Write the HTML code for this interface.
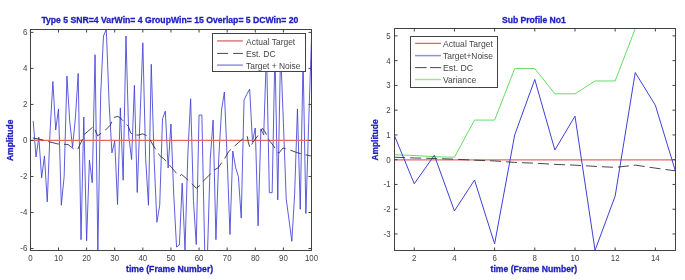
<!DOCTYPE html>
<html><head><meta charset="utf-8"><title>Figure</title>
<style>
html,body{margin:0;padding:0;background:#fff;width:685px;height:280px;overflow:hidden;}
svg{display:block;font-family:"Liberation Sans", sans-serif;filter:blur(0.35px);}
</style></head><body>
<svg width="685" height="280" viewBox="0 0 685 280">
<defs><clipPath id="cl"><rect x="30.50" y="29.50" width="281.00" height="221.00"/></clipPath>
<clipPath id="cr"><rect x="394.50" y="28.50" width="281.00" height="222.00"/></clipPath></defs>
<rect width="685" height="280" fill="#fff"/>
<g clip-path="url(#cl)" fill="none" stroke-linejoin="round">
<polyline points="33.21,121.00 36.02,157.02 38.83,137.21 41.64,177.91 44.45,155.94 47.27,201.86 50.08,130.90 52.89,81.56 55.70,130.00 58.51,108.93 61.32,205.29 64.13,176.65 66.94,76.15 69.75,121.72 72.56,147.29 75.38,117.94 78.19,73.45 81.00,239.69 83.81,117.04 86.62,240.77 89.43,160.08 92.24,182.77 95.05,54.72 97.86,249.95 100.68,94.16 103.49,35.99 106.30,29.15 109.11,103.35 111.92,152.88 114.73,141.17 117.54,204.57 120.35,107.85 123.16,180.25 125.97,35.99 128.78,136.31 131.60,159.54 134.41,85.34 137.22,192.50 140.03,117.94 142.84,42.84 145.65,158.28 148.46,205.29 151.27,64.27 154.08,158.28 156.90,222.22 159.71,205.29 162.52,118.84 165.33,111.09 168.14,168.01 170.95,124.06 173.76,195.02 176.57,247.07 179.38,244.91 182.19,183.13 185.00,249.95 187.82,154.68 190.63,98.85 193.44,200.42 196.25,244.55 199.06,115.06 201.87,115.06 204.68,249.95 207.49,253.73 210.30,158.28 213.12,120.10 215.93,239.69 218.74,158.28 221.55,110.01 224.36,92.00 227.17,158.28 229.98,234.46 232.79,151.08 235.60,167.46 238.41,176.65 241.22,218.07 244.04,100.11 246.85,94.16 249.66,89.12 252.47,141.89 255.28,128.02 258.09,225.82 260.90,128.92 263.71,135.05 266.52,50.40 269.33,192.68 272.15,192.68 274.96,50.40 277.77,199.88 280.58,50.40 283.39,122.44 286.20,198.80 289.01,219.69 291.82,241.31 294.63,194.48 297.44,108.93 300.26,209.25 303.07,59.40 305.88,213.57 308.69,122.44 311.50,37.79" stroke="#4040d8" stroke-width="0.85"/>
<line x1="30.50" y1="140.45" x2="311.50" y2="140.45" stroke="#e46a6a" stroke-width="1.2"/>
<polyline points="32.80,138.00 38.70,139.10 43.00,140.00 49.40,141.80 57.50,143.90 68.00,144.50 75.00,150.00 77.50,149.70 81.60,141.20 84.20,134.50 93.60,126.40 97.60,135.80 105.70,129.90 110.40,125.00 113.60,117.50 117.90,116.40 122.10,119.60 128.40,126.40 130.60,132.90 133.80,135.00 139.10,135.00 142.40,133.90 145.60,135.00 149.90,139.30 153.00,145.00 159.80,155.70 163.80,158.70 171.70,167.60 176.60,173.50 179.50,176.40 181.50,174.40 185.00,177.40 190.40,182.30 196.30,188.20 200.20,185.30 204.00,180.40 209.00,175.40 214.00,170.00 218.00,168.00 225.00,158.00 228.60,151.60 238.40,142.70 244.60,137.30 247.30,136.40 248.20,141.80 250.00,148.00 252.70,142.70 259.80,132.90 262.50,128.40 265.20,132.00 268.80,140.00 273.20,145.40 278.60,153.40 283.00,148.00 289.30,149.80 297.90,152.90 310.70,156.00 312.00,156.00" stroke="#333333" stroke-width="0.9" stroke-dasharray="11,5"/>
</g>
<rect x="212.5" y="33.5" width="93" height="38" fill="#fff" stroke="#424242" stroke-width="1"/>
<line x1="217.10" y1="40.90" x2="242.90" y2="40.90" stroke="#d86a6a" stroke-width="1.3"/>
<line x1="217.10" y1="53.40" x2="242.90" y2="53.40" stroke="#333333" stroke-width="0.9" stroke-dasharray="11,5"/>
<line x1="217.10" y1="65.10" x2="242.90" y2="65.10" stroke="#9090e6" stroke-width="1.5"/>
<rect x="30.50" y="29.50" width="281.00" height="221.00" fill="none" stroke="#424242" stroke-width="1"/>
<line x1="30.40" y1="250.50" x2="30.40" y2="247.50" stroke="#424242" stroke-width="1"/>
<line x1="30.40" y1="29.50" x2="30.40" y2="32.50" stroke="#424242" stroke-width="1"/>
<line x1="58.51" y1="250.50" x2="58.51" y2="247.50" stroke="#424242" stroke-width="1"/>
<line x1="58.51" y1="29.50" x2="58.51" y2="32.50" stroke="#424242" stroke-width="1"/>
<line x1="86.62" y1="250.50" x2="86.62" y2="247.50" stroke="#424242" stroke-width="1"/>
<line x1="86.62" y1="29.50" x2="86.62" y2="32.50" stroke="#424242" stroke-width="1"/>
<line x1="114.73" y1="250.50" x2="114.73" y2="247.50" stroke="#424242" stroke-width="1"/>
<line x1="114.73" y1="29.50" x2="114.73" y2="32.50" stroke="#424242" stroke-width="1"/>
<line x1="142.84" y1="250.50" x2="142.84" y2="247.50" stroke="#424242" stroke-width="1"/>
<line x1="142.84" y1="29.50" x2="142.84" y2="32.50" stroke="#424242" stroke-width="1"/>
<line x1="170.95" y1="250.50" x2="170.95" y2="247.50" stroke="#424242" stroke-width="1"/>
<line x1="170.95" y1="29.50" x2="170.95" y2="32.50" stroke="#424242" stroke-width="1"/>
<line x1="199.06" y1="250.50" x2="199.06" y2="247.50" stroke="#424242" stroke-width="1"/>
<line x1="199.06" y1="29.50" x2="199.06" y2="32.50" stroke="#424242" stroke-width="1"/>
<line x1="227.17" y1="250.50" x2="227.17" y2="247.50" stroke="#424242" stroke-width="1"/>
<line x1="227.17" y1="29.50" x2="227.17" y2="32.50" stroke="#424242" stroke-width="1"/>
<line x1="255.28" y1="250.50" x2="255.28" y2="247.50" stroke="#424242" stroke-width="1"/>
<line x1="255.28" y1="29.50" x2="255.28" y2="32.50" stroke="#424242" stroke-width="1"/>
<line x1="283.39" y1="250.50" x2="283.39" y2="247.50" stroke="#424242" stroke-width="1"/>
<line x1="283.39" y1="29.50" x2="283.39" y2="32.50" stroke="#424242" stroke-width="1"/>
<line x1="311.50" y1="250.50" x2="311.50" y2="247.50" stroke="#424242" stroke-width="1"/>
<line x1="311.50" y1="29.50" x2="311.50" y2="32.50" stroke="#424242" stroke-width="1"/>
<line x1="30.50" y1="248.51" x2="33.50" y2="248.51" stroke="#424242" stroke-width="1"/>
<line x1="311.50" y1="248.51" x2="308.50" y2="248.51" stroke="#424242" stroke-width="1"/>
<line x1="30.50" y1="212.49" x2="33.50" y2="212.49" stroke="#424242" stroke-width="1"/>
<line x1="311.50" y1="212.49" x2="308.50" y2="212.49" stroke="#424242" stroke-width="1"/>
<line x1="30.50" y1="176.47" x2="33.50" y2="176.47" stroke="#424242" stroke-width="1"/>
<line x1="311.50" y1="176.47" x2="308.50" y2="176.47" stroke="#424242" stroke-width="1"/>
<line x1="30.50" y1="140.45" x2="33.50" y2="140.45" stroke="#424242" stroke-width="1"/>
<line x1="311.50" y1="140.45" x2="308.50" y2="140.45" stroke="#424242" stroke-width="1"/>
<line x1="30.50" y1="104.43" x2="33.50" y2="104.43" stroke="#424242" stroke-width="1"/>
<line x1="311.50" y1="104.43" x2="308.50" y2="104.43" stroke="#424242" stroke-width="1"/>
<line x1="30.50" y1="68.41" x2="33.50" y2="68.41" stroke="#424242" stroke-width="1"/>
<line x1="311.50" y1="68.41" x2="308.50" y2="68.41" stroke="#424242" stroke-width="1"/>
<line x1="30.50" y1="32.39" x2="33.50" y2="32.39" stroke="#424242" stroke-width="1"/>
<line x1="311.50" y1="32.39" x2="308.50" y2="32.39" stroke="#424242" stroke-width="1"/>
<g clip-path="url(#cr)" fill="none" stroke-linejoin="round">
<line x1="394.50" y1="159.80" x2="675.50" y2="159.80" stroke="#e46a6a" stroke-width="1.3"/>
<polyline points="394.16,154.75 414.25,155.49 434.34,156.73 454.43,157.22 474.52,120.08 494.61,120.08 514.70,68.58 534.79,68.58 554.88,93.84 574.97,93.84 595.06,80.96 615.15,80.96 635.24,28.72 655.33,-1.24 675.42,-1.24" stroke="#66dc66" stroke-width="1.0"/>
<polyline points="394.16,134.94 414.25,183.72 434.34,155.24 454.43,210.95 474.52,180.00 494.61,243.88 514.70,134.94 534.79,79.48 554.88,150.04 574.97,116.12 595.06,250.32 615.15,196.10 635.24,72.54 655.33,105.23 675.42,171.09" stroke="#4040d8" stroke-width="1.0"/>
<polyline points="394.16,157.22 414.25,157.97 434.34,158.46 454.43,159.20 474.52,160.20 494.61,160.94 514.70,162.42 534.79,163.17 554.88,164.40 574.97,165.15 595.06,166.39 615.15,167.38 635.24,165.15 655.33,168.12 675.42,170.84" stroke="#333333" stroke-width="0.9" stroke-dasharray="11,5"/>
</g>
<rect x="410.5" y="36.5" width="87" height="51" fill="#fff" stroke="#424242" stroke-width="1"/>
<line x1="415.10" y1="43.40" x2="441.00" y2="43.40" stroke="#d86a6a" stroke-width="1.3"/>
<line x1="415.10" y1="55.60" x2="441.00" y2="55.60" stroke="#9090e6" stroke-width="1.5"/>
<line x1="415.10" y1="67.60" x2="441.00" y2="67.60" stroke="#333333" stroke-width="0.9" stroke-dasharray="11.5,3.5"/>
<line x1="415.10" y1="79.50" x2="441.00" y2="79.50" stroke="#9ee09e" stroke-width="1.5"/>
<rect x="394.50" y="28.50" width="281.00" height="222.00" fill="none" stroke="#424242" stroke-width="1"/>
<line x1="414.25" y1="250.50" x2="414.25" y2="247.50" stroke="#424242" stroke-width="1"/>
<line x1="414.25" y1="28.50" x2="414.25" y2="31.50" stroke="#424242" stroke-width="1"/>
<line x1="454.43" y1="250.50" x2="454.43" y2="247.50" stroke="#424242" stroke-width="1"/>
<line x1="454.43" y1="28.50" x2="454.43" y2="31.50" stroke="#424242" stroke-width="1"/>
<line x1="494.61" y1="250.50" x2="494.61" y2="247.50" stroke="#424242" stroke-width="1"/>
<line x1="494.61" y1="28.50" x2="494.61" y2="31.50" stroke="#424242" stroke-width="1"/>
<line x1="534.79" y1="250.50" x2="534.79" y2="247.50" stroke="#424242" stroke-width="1"/>
<line x1="534.79" y1="28.50" x2="534.79" y2="31.50" stroke="#424242" stroke-width="1"/>
<line x1="574.97" y1="250.50" x2="574.97" y2="247.50" stroke="#424242" stroke-width="1"/>
<line x1="574.97" y1="28.50" x2="574.97" y2="31.50" stroke="#424242" stroke-width="1"/>
<line x1="615.15" y1="250.50" x2="615.15" y2="247.50" stroke="#424242" stroke-width="1"/>
<line x1="615.15" y1="28.50" x2="615.15" y2="31.50" stroke="#424242" stroke-width="1"/>
<line x1="655.33" y1="250.50" x2="655.33" y2="247.50" stroke="#424242" stroke-width="1"/>
<line x1="655.33" y1="28.50" x2="655.33" y2="31.50" stroke="#424242" stroke-width="1"/>
<line x1="394.50" y1="233.98" x2="397.50" y2="233.98" stroke="#424242" stroke-width="1"/>
<line x1="675.50" y1="233.98" x2="672.50" y2="233.98" stroke="#424242" stroke-width="1"/>
<line x1="394.50" y1="209.22" x2="397.50" y2="209.22" stroke="#424242" stroke-width="1"/>
<line x1="675.50" y1="209.22" x2="672.50" y2="209.22" stroke="#424242" stroke-width="1"/>
<line x1="394.50" y1="184.46" x2="397.50" y2="184.46" stroke="#424242" stroke-width="1"/>
<line x1="675.50" y1="184.46" x2="672.50" y2="184.46" stroke="#424242" stroke-width="1"/>
<line x1="394.50" y1="159.70" x2="397.50" y2="159.70" stroke="#424242" stroke-width="1"/>
<line x1="675.50" y1="159.70" x2="672.50" y2="159.70" stroke="#424242" stroke-width="1"/>
<line x1="394.50" y1="134.94" x2="397.50" y2="134.94" stroke="#424242" stroke-width="1"/>
<line x1="675.50" y1="134.94" x2="672.50" y2="134.94" stroke="#424242" stroke-width="1"/>
<line x1="394.50" y1="110.18" x2="397.50" y2="110.18" stroke="#424242" stroke-width="1"/>
<line x1="675.50" y1="110.18" x2="672.50" y2="110.18" stroke="#424242" stroke-width="1"/>
<line x1="394.50" y1="85.42" x2="397.50" y2="85.42" stroke="#424242" stroke-width="1"/>
<line x1="675.50" y1="85.42" x2="672.50" y2="85.42" stroke="#424242" stroke-width="1"/>
<line x1="394.50" y1="60.66" x2="397.50" y2="60.66" stroke="#424242" stroke-width="1"/>
<line x1="675.50" y1="60.66" x2="672.50" y2="60.66" stroke="#424242" stroke-width="1"/>
<line x1="394.50" y1="35.90" x2="397.50" y2="35.90" stroke="#424242" stroke-width="1"/>
<line x1="675.50" y1="35.90" x2="672.50" y2="35.90" stroke="#424242" stroke-width="1"/>
<text transform="translate(27.30 251.41) scale(0.860 1)" font-size="9.20" text-anchor="end" font-weight="normal" fill="#454545">-6</text>
<text transform="translate(27.30 215.39) scale(0.860 1)" font-size="9.20" text-anchor="end" font-weight="normal" fill="#454545">-4</text>
<text transform="translate(27.30 179.37) scale(0.860 1)" font-size="9.20" text-anchor="end" font-weight="normal" fill="#454545">-2</text>
<text transform="translate(27.30 143.35) scale(0.860 1)" font-size="9.20" text-anchor="end" font-weight="normal" fill="#454545">0</text>
<text transform="translate(27.30 107.33) scale(0.860 1)" font-size="9.20" text-anchor="end" font-weight="normal" fill="#454545">2</text>
<text transform="translate(27.30 71.31) scale(0.860 1)" font-size="9.20" text-anchor="end" font-weight="normal" fill="#454545">4</text>
<text transform="translate(27.30 35.29) scale(0.860 1)" font-size="9.20" text-anchor="end" font-weight="normal" fill="#454545">6</text>
<text transform="translate(30.40 260.70) scale(0.860 1)" font-size="9.20" text-anchor="middle" font-weight="normal" fill="#454545">0</text>
<text transform="translate(58.51 260.70) scale(0.860 1)" font-size="9.20" text-anchor="middle" font-weight="normal" fill="#454545">10</text>
<text transform="translate(86.62 260.70) scale(0.860 1)" font-size="9.20" text-anchor="middle" font-weight="normal" fill="#454545">20</text>
<text transform="translate(114.73 260.70) scale(0.860 1)" font-size="9.20" text-anchor="middle" font-weight="normal" fill="#454545">30</text>
<text transform="translate(142.84 260.70) scale(0.860 1)" font-size="9.20" text-anchor="middle" font-weight="normal" fill="#454545">40</text>
<text transform="translate(170.95 260.70) scale(0.860 1)" font-size="9.20" text-anchor="middle" font-weight="normal" fill="#454545">50</text>
<text transform="translate(199.06 260.70) scale(0.860 1)" font-size="9.20" text-anchor="middle" font-weight="normal" fill="#454545">60</text>
<text transform="translate(227.17 260.70) scale(0.860 1)" font-size="9.20" text-anchor="middle" font-weight="normal" fill="#454545">70</text>
<text transform="translate(255.28 260.70) scale(0.860 1)" font-size="9.20" text-anchor="middle" font-weight="normal" fill="#454545">80</text>
<text transform="translate(283.39 260.70) scale(0.860 1)" font-size="9.20" text-anchor="middle" font-weight="normal" fill="#454545">90</text>
<text transform="translate(311.50 260.70) scale(0.860 1)" font-size="9.20" text-anchor="middle" font-weight="normal" fill="#454545">100</text>
<text transform="translate(390.60 236.88) scale(0.860 1)" font-size="9.20" text-anchor="end" font-weight="normal" fill="#454545">-3</text>
<text transform="translate(390.60 212.12) scale(0.860 1)" font-size="9.20" text-anchor="end" font-weight="normal" fill="#454545">-2</text>
<text transform="translate(390.60 187.36) scale(0.860 1)" font-size="9.20" text-anchor="end" font-weight="normal" fill="#454545">-1</text>
<text transform="translate(390.60 162.60) scale(0.860 1)" font-size="9.20" text-anchor="end" font-weight="normal" fill="#454545">0</text>
<text transform="translate(390.60 137.84) scale(0.860 1)" font-size="9.20" text-anchor="end" font-weight="normal" fill="#454545">1</text>
<text transform="translate(390.60 113.08) scale(0.860 1)" font-size="9.20" text-anchor="end" font-weight="normal" fill="#454545">2</text>
<text transform="translate(390.60 88.32) scale(0.860 1)" font-size="9.20" text-anchor="end" font-weight="normal" fill="#454545">3</text>
<text transform="translate(390.60 63.56) scale(0.860 1)" font-size="9.20" text-anchor="end" font-weight="normal" fill="#454545">4</text>
<text transform="translate(390.60 38.80) scale(0.860 1)" font-size="9.20" text-anchor="end" font-weight="normal" fill="#454545">5</text>
<text transform="translate(414.25 260.70) scale(0.860 1)" font-size="9.20" text-anchor="middle" font-weight="normal" fill="#454545">2</text>
<text transform="translate(454.43 260.70) scale(0.860 1)" font-size="9.20" text-anchor="middle" font-weight="normal" fill="#454545">4</text>
<text transform="translate(494.61 260.70) scale(0.860 1)" font-size="9.20" text-anchor="middle" font-weight="normal" fill="#454545">6</text>
<text transform="translate(534.79 260.70) scale(0.860 1)" font-size="9.20" text-anchor="middle" font-weight="normal" fill="#454545">8</text>
<text transform="translate(574.97 260.70) scale(0.860 1)" font-size="9.20" text-anchor="middle" font-weight="normal" fill="#454545">10</text>
<text transform="translate(615.15 260.70) scale(0.860 1)" font-size="9.20" text-anchor="middle" font-weight="normal" fill="#454545">12</text>
<text transform="translate(655.33 260.70) scale(0.860 1)" font-size="9.20" text-anchor="middle" font-weight="normal" fill="#454545">14</text>
<text x="246.10" y="44.50" font-size="8.40" text-anchor="start" font-weight="normal" fill="#454545" textLength="49.10" lengthAdjust="spacingAndGlyphs">Actual Target</text>
<text x="246.10" y="56.60" font-size="8.40" text-anchor="start" font-weight="normal" fill="#454545" textLength="29.50" lengthAdjust="spacingAndGlyphs">Est.  DC</text>
<text x="246.10" y="68.60" font-size="8.40" text-anchor="start" font-weight="normal" fill="#454545" textLength="54.40" lengthAdjust="spacingAndGlyphs">Target + Noise</text>
<text x="443.00" y="47.00" font-size="8.40" text-anchor="start" font-weight="normal" fill="#454545" textLength="49.80" lengthAdjust="spacingAndGlyphs">Actual Target</text>
<text x="443.00" y="59.00" font-size="8.40" text-anchor="start" font-weight="normal" fill="#454545" textLength="49.90" lengthAdjust="spacingAndGlyphs">Target+Noise</text>
<text x="443.00" y="71.00" font-size="8.40" text-anchor="start" font-weight="normal" fill="#454545" textLength="30.20" lengthAdjust="spacingAndGlyphs">Est. DC</text>
<text x="443.00" y="83.00" font-size="8.40" text-anchor="start" font-weight="normal" fill="#454545" textLength="33.20" lengthAdjust="spacingAndGlyphs">Variance</text>
<text x="169.90" y="22.50" font-size="9.20" text-anchor="middle" font-weight="bold" fill="#2020c0" textLength="257.00" lengthAdjust="spacingAndGlyphs" stroke="#2020c0" stroke-width="0.3">Type 5 SNR=4 VarWin= 4 GroupWin= 15 Overlap= 5 DCWin= 20</text>
<text x="533.90" y="22.90" font-size="9.20" text-anchor="middle" font-weight="bold" fill="#2020c0" textLength="63.90" lengthAdjust="spacingAndGlyphs" stroke="#2020c0" stroke-width="0.3">Sub Profile No1</text>
<text x="169.60" y="271.80" font-size="9.20" text-anchor="middle" font-weight="bold" fill="#2020c0" textLength="87.20" lengthAdjust="spacingAndGlyphs" stroke="#2020c0" stroke-width="0.3">time (Frame Number)</text>
<text x="533.90" y="271.60" font-size="9.20" text-anchor="middle" font-weight="bold" fill="#2020c0" textLength="86.70" lengthAdjust="spacingAndGlyphs" stroke="#2020c0" stroke-width="0.3">time (Frame Number)</text>
<text x="13.30" y="140.30" font-size="9.20" text-anchor="middle" font-weight="bold" fill="#2020c0" textLength="41.40" lengthAdjust="spacingAndGlyphs" stroke="#2020c0" stroke-width="0.3" transform="rotate(-90 13.30 140.30)">Amplitude</text>
<text x="377.70" y="140.00" font-size="9.20" text-anchor="middle" font-weight="bold" fill="#2020c0" textLength="41.20" lengthAdjust="spacingAndGlyphs" stroke="#2020c0" stroke-width="0.3" transform="rotate(-90 377.70 140.00)">Amplitude</text>
</svg>
</body></html>
